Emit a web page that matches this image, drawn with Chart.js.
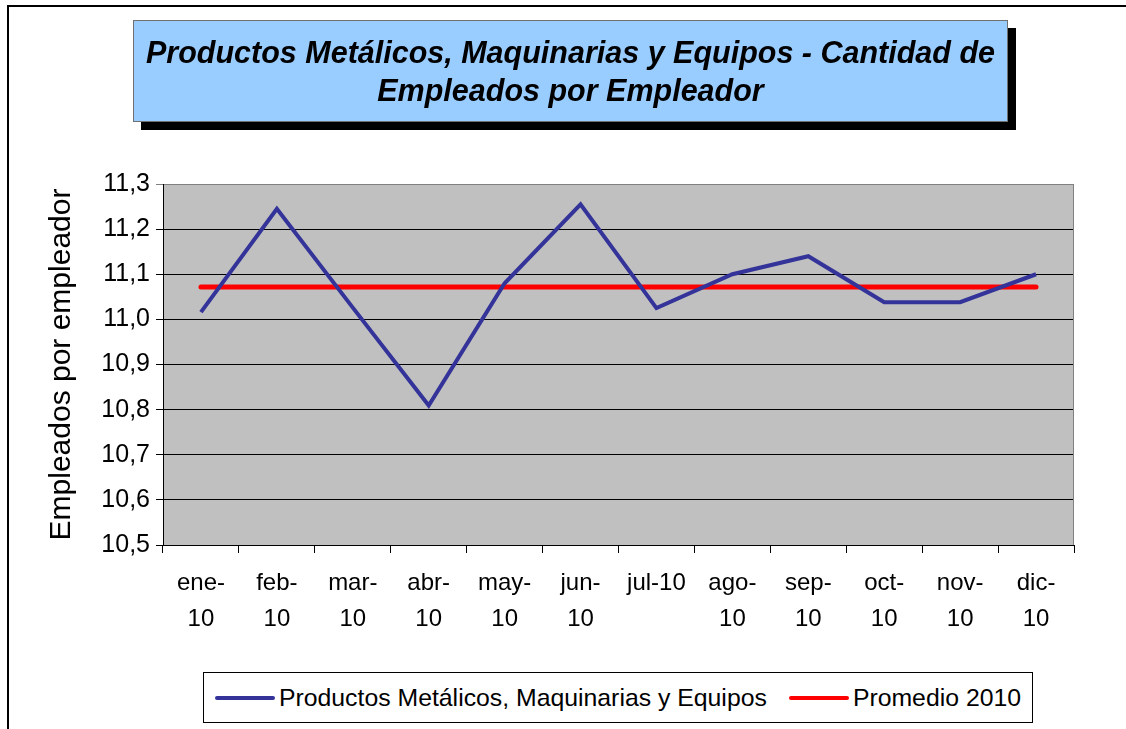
<!DOCTYPE html>
<html lang="es">
<head>
<meta charset="utf-8">
<title>Productos Metálicos, Maquinarias y Equipos - Cantidad de Empleados por Empleador</title>
<script src="https://cdn.jsdelivr.net/npm/chart.js@4.4.0/dist/chart.umd.min.js"></script>
<style>
  html, body { margin: 0; padding: 0; background: #fff; overflow: hidden; }
  #marco { position: absolute; left: 0; top: 0; width: 1126px; height: 729px; }
  #borde { position: absolute; left: 7px; top: 5px; width: 1300px; height: 900px;
           border-top: 2px solid #000; border-left: 2px solid #000; }
  #titulo { position: absolute; left: 133px; top: 20px; width: 875px; height: 102px;
            box-sizing: border-box; padding-top: 12px;
            background: #99CCFF; border: 1px solid #707070; box-shadow: 8px 8px 0 #000;
            font: italic bold 30.5px "Liberation Sans", Arial, sans-serif;
            line-height: 38px; text-align: center; color: #000; }
  #leyenda { position: absolute; left: 203px; top: 672px; width: 830px; height: 51px;
             box-sizing: border-box; border: 1px solid #000; background: #fff;
             display: flex; align-items: center; justify-content: center;
             font: 24.8px "Liberation Sans", Arial, sans-serif; color: #000; }
  .item { display: flex; align-items: center; margin: 0 11px; white-space: nowrap; }
  .muestra { width: 60px; height: 4px; border-radius: 2px; margin-right: 4px; }
</style>
</head>
<body>
<div id="borde"></div>
<div id="marco"><canvas id="grafico"></canvas></div>
<div id="titulo">Productos Metálicos, Maquinarias y Equipos - Cantidad de<br>Empleados por Empleador</div>
<div id="leyenda"></div>
<script>
const meses = [['ene-', '10'], ['feb-', '10'], ['mar-', '10'], ['abr-', '10'], ['may-', '10'], ['jun-', '10'],
               ['jul-10'], ['ago-', '10'], ['sep-', '10'], ['oct-', '10'], ['nov-', '10'], ['dic-', '10']];
const empleados = [11.016, 11.245, 11.026, 10.809, 11.08, 11.255, 11.025, 11.10, 11.14, 11.038, 11.038, 11.10];
const promedio = [11.072, 11.072, 11.072, 11.072, 11.072, 11.072, 11.072, 11.072, 11.072, 11.072, 11.072, 11.072];
const nombreSerie = 'Productos Metálicos, Maquinarias y Equipos';
const nombrePromedio = 'Promedio 2010';
const yMin = 10.5, yMax = 11.3, yPaso = 0.1;

const fuente = '"Liberation Sans", Arial, sans-serif';

const fondoPlot = {
    id: 'fondoPlot',
    beforeDraw(chart) {
        const a = chart.chartArea;
        const ctx = chart.ctx;
        ctx.save();
        ctx.fillStyle = '#C0C0C0';
        ctx.fillRect(a.left, a.top, a.right - a.left, a.bottom - a.top);
        ctx.restore();
    },
    afterDatasetsDraw(chart) {
        const a = chart.chartArea;
        const ctx = chart.ctx;
        ctx.save();
        ctx.strokeStyle = '#808080';
        ctx.lineWidth = 1;
        ctx.beginPath();
        ctx.moveTo(a.right - 0.5, a.top);
        ctx.lineTo(a.right - 0.5, a.bottom);
        ctx.stroke();
        ctx.restore();
    }
};

let grafico = new Chart(document.getElementById('grafico'), {
    type: 'line',
    data: {
        labels: meses,
        datasets: [{
            label: nombreSerie,
            data: empleados,
            borderColor: '#333399',
            borderWidth: 4,
            pointRadius: 0,
            tension: 0,
            fill: false
        }, {
            label: nombrePromedio,
            data: promedio,
            borderColor: '#FF0000',
            borderWidth: 5,
            borderCapStyle: 'round',
            pointRadius: 0,
            tension: 0,
            fill: false
        }]
    },
    options: {
        responsive: true,
        maintainAspectRatio: false,
        animation: false,
        layout: { padding: { left: 0, top: 184, right: 52, bottom: 84 } },
        plugins: {
            legend: { display: false },
            title: { display: false },
            tooltip: { enabled: false }
        },
        scales: {
            x: {
                offset: true,
                afterFit(scale) { scale.height = 100; },
                grid: { offset: true, drawOnChartArea: false, drawTicks: true, tickLength: 8, color: '#000' },
                border: { display: true, color: '#000', width: 1 },
                ticks: {
                    color: '#000', maxRotation: 0, autoSkip: false, padding: 12,
                    font: { family: fuente, size: 24, lineHeight: 1.5 }
                }
            },
            y: {
                min: yMin,
                max: yMax,
                afterFit(scale) { scale.width = 163; },
                grid: {
                    color: ctx => (ctx.tick && ctx.tick.value > yMax - 0.01) ? '#808080' : '#000',
                    lineWidth: 1,
                    tickLength: 7
                },
                border: { display: true, color: '#000', width: 1 },
                ticks: {
                    stepSize: yPaso,
                    color: '#000',
                    padding: 6,
                    font: { family: fuente, size: 25 },
                    callback: v => v.toFixed(1).replace('.', ',')
                },
                title: {
                    display: true,
                    text: 'Empleados por empleador',
                    color: '#000',
                    font: { family: fuente, size: 30 },
                    padding: { top: 44, bottom: 0 }
                }
            }
        }
    },
    plugins: [fondoPlot]
});

let leyenda = document.getElementById('leyenda');
grafico.data.datasets.forEach(ds => {
    let item = document.createElement('div');
    item.className = 'item';
    let muestra = document.createElement('span');
    muestra.className = 'muestra';
    muestra.style.background = ds.borderColor;
    let texto = document.createElement('span');
    texto.innerText = ds.label;
    item.appendChild(muestra);
    item.appendChild(texto);
    leyenda.appendChild(item);
});
</script>
</body>
</html>
